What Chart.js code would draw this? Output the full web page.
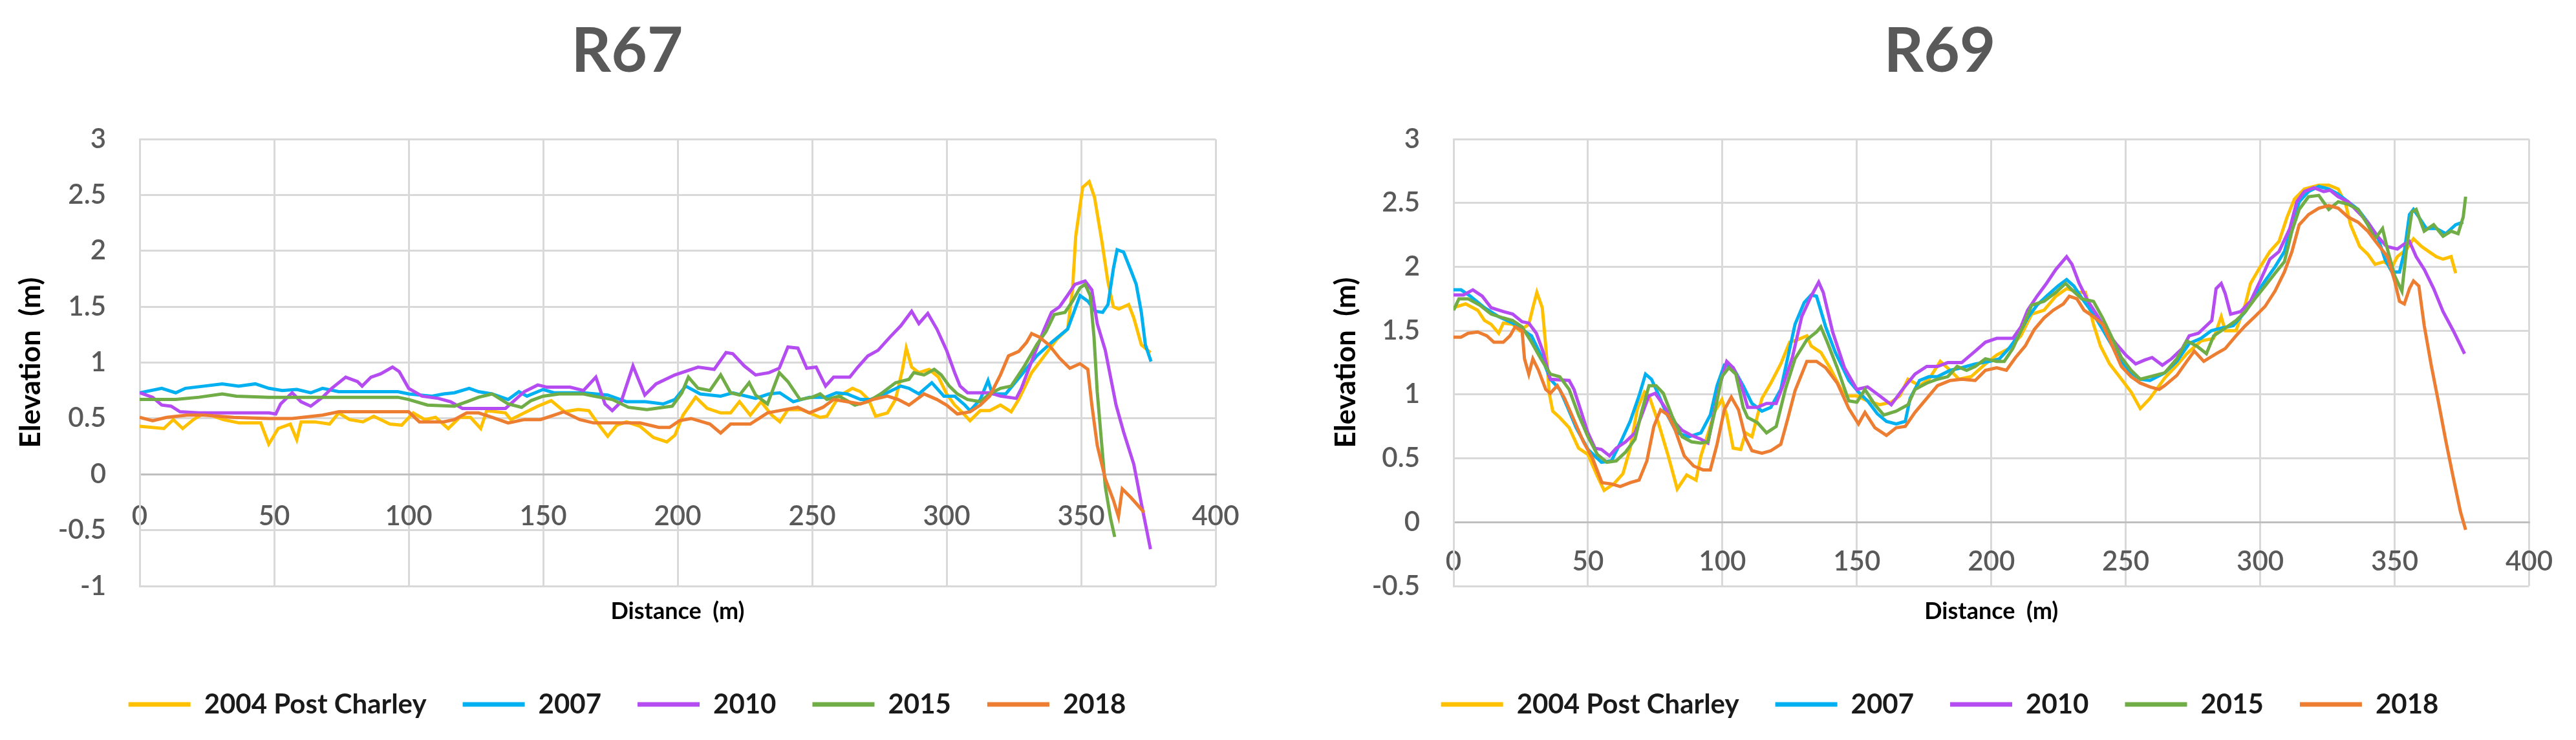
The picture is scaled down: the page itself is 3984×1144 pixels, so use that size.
<!DOCTYPE html>
<html lang="en">
<head>
<meta charset="UTF-8">
<title>R67 / R69 profiles</title>
<style>
  body { margin: 0; background: #fff; }
  .wrap { position: relative; width: 3984px; height: 1144px; }
  canvas { position: absolute; top: 0; }
  #r67 { left: 0; }
  #r69 { left: 1992px; }
</style>
</head>
<body>
<div class="wrap">
  <canvas id="r67" width="1992" height="1144"></canvas>
  <canvas id="r69" width="1992" height="1144"></canvas>
</div>
<script src="https://cdn.jsdelivr.net/npm/chart.js"></script>
<script>
// legend names and colours, same order for both profiles
const seriesNames = ['2004 Post Charley', '2007', '2010', '2015', '2018'];
const seriesColors = ['#FFC000', '#00B0F0', '#B54CF2', '#70AD47', '#ED7D31'];

// [distance (m), elevation (m)]
const r67_2004 = [[0,0.43],[9,0.41],[12.5,0.49],[16,0.41],[20,0.49],[24,0.55],[31,0.49],[37,0.46],[45,0.46],[48,0.27],[51.5,0.41],[56,0.45],[58.4,0.31],[60,0.47],[65,0.47],[70.6,0.45],[74,0.55],[78,0.49],[83,0.47],[87,0.52],[93,0.45],[97.4,0.44],[101.7,0.55],[106,0.49],[110,0.51],[114.7,0.41],[119,0.51],[123,0.51],[126.8,0.41],[129,0.57],[136,0.55],[138,0.49],[143,0.55],[148,0.61],[153,0.66],[158,0.56],[163,0.58],[167,0.57],[170.5,0.45],[174,0.34],[177.4,0.44],[181,0.47],[186,0.43],[191,0.33],[196,0.29],[199,0.35],[202,0.53],[206.7,0.69],[211,0.59],[216,0.55],[219.7,0.55],[223,0.65],[227,0.53],[231,0.65],[235,0.53],[238,0.47],[241,0.58],[246,0.58],[250,0.54],[253,0.51],[255.5,0.52],[260,0.70],[265,0.77],[268,0.74],[271,0.67],[273.6,0.52],[278,0.55],[281,0.67],[283.6,0.94],[285,1.13],[287,0.96],[289.7,0.91],[293.5,0.94],[297,0.87],[300,0.72],[303,0.62],[306,0.55],[308.7,0.48],[312.5,0.57],[316,0.57],[320,0.62],[324,0.56],[326.8,0.67],[331.6,0.91],[336.3,1.06],[341,1.21],[345,1.30],[346.8,1.65],[348,2.13],[350.6,2.57],[353,2.62],[355,2.48],[357.7,2.09],[360,1.72],[362,1.50],[364,1.48],[367.7,1.52],[369.6,1.40],[372.4,1.16],[375.8,1.09]];
const r67_2007 = [[0,0.73],[8.2,0.77],[13.4,0.73],[17,0.77],[24,0.79],[30.7,0.81],[36.8,0.79],[43,0.81],[48,0.77],[53,0.75],[58.4,0.76],[63.6,0.73],[68,0.77],[74,0.74],[96,0.74],[100,0.72],[108.7,0.70],[113,0.72],[117,0.73],[122.5,0.77],[126,0.74],[131,0.72],[137,0.67],[141,0.74],[144,0.70],[150,0.76],[154,0.73],[165,0.73],[174,0.71],[181,0.65],[188,0.65],[194.6,0.63],[199,0.67],[203,0.79],[208.4,0.72],[216,0.70],[220.5,0.73],[229,0.68],[234,0.72],[238,0.73],[243,0.65],[249,0.69],[255,0.69],[259,0.73],[263,0.72],[268,0.67],[271.7,0.67],[277,0.72],[283,0.79],[286,0.77],[289.7,0.72],[294.5,0.82],[299,0.70],[303,0.70],[306.8,0.62],[308.7,0.57],[312.5,0.67],[315.4,0.84],[317,0.72],[322,0.72],[327.8,0.89],[333.5,1.06],[339,1.18],[345,1.30],[349.6,1.60],[352.5,1.55],[355.3,1.46],[358,1.45],[360,1.52],[362,1.84],[363.4,2.01],[365.8,1.99],[368.6,1.82],[370.5,1.70],[372.4,1.45],[373.9,1.16],[376,1.01]];
const r67_2010 = [[0,0.73],[4.8,0.69],[8.2,0.62],[11.7,0.61],[15,0.56],[22,0.55],[48,0.55],[50.6,0.54],[52.4,0.63],[56.7,0.73],[60,0.65],[63.6,0.61],[68,0.69],[71.4,0.77],[76.6,0.87],[81,0.83],[82.7,0.79],[86,0.87],[89.6,0.90],[94,0.96],[96.5,0.92],[100,0.77],[105,0.70],[111,0.68],[115.6,0.65],[120,0.59],[136,0.59],[143,0.74],[148,0.80],[151.5,0.78],[160,0.78],[165,0.75],[169.6,0.87],[173,0.63],[175.7,0.57],[179,0.65],[183.4,0.97],[187.8,0.71],[192,0.81],[199,0.89],[207.6,0.96],[213.6,0.94],[218,1.09],[220.5,1.08],[224.8,0.97],[229,0.89],[234,0.91],[237.8,0.95],[241,1.14],[244.7,1.13],[248,0.95],[251.5,0.96],[255,0.79],[258,0.87],[264,0.87],[267,0.96],[270.7,1.06],[274.5,1.11],[279,1.23],[283,1.33],[287,1.46],[289.7,1.35],[293,1.44],[296.4,1.30],[300,1.11],[303,0.91],[305,0.79],[307.8,0.73],[316,0.73],[320,0.70],[325.9,0.68],[327.8,0.77],[331.6,1.01],[336.3,1.30],[339,1.45],[342,1.50],[344.9,1.60],[347.7,1.70],[351.5,1.73],[354,1.65],[356,1.35],[359,1.11],[363,0.62],[365.8,0.38],[369.6,0.09],[372.4,-0.26],[375.8,-0.67]];
const r67_2015 = [[0,0.67],[13.4,0.67],[22,0.69],[30.7,0.72],[36,0.70],[48,0.69],[96,0.69],[100,0.67],[107,0.62],[117,0.61],[121.6,0.65],[126,0.69],[131,0.72],[137,0.63],[142,0.60],[145.5,0.66],[150,0.70],[156,0.72],[165,0.72],[168.8,0.70],[175.7,0.67],[181.7,0.60],[188.6,0.58],[194.6,0.60],[198,0.61],[201.6,0.73],[204,0.87],[207.6,0.77],[212,0.75],[216,0.89],[219.7,0.73],[223,0.71],[226.6,0.82],[229,0.71],[233.4,0.63],[237.8,0.91],[241,0.83],[245.5,0.67],[250,0.69],[253,0.72],[255.5,0.67],[260,0.70],[265.9,0.62],[270.7,0.65],[275.5,0.72],[281,0.82],[286,0.85],[287.8,0.91],[291.6,0.89],[295.4,0.94],[298,0.89],[301,0.79],[304,0.72],[307.8,0.67],[312.5,0.65],[316,0.72],[320,0.77],[324,0.79],[328.7,0.96],[333.5,1.16],[337,1.28],[340,1.43],[344,1.45],[346.8,1.55],[349.6,1.67],[351.5,1.70],[353.4,1.60],[354.8,1.23],[356,0.74],[357.7,0.26],[359,-0.11],[361,-0.40],[362.5,-0.56]];
const r67_2018 = [[0,0.51],[4.8,0.48],[10,0.51],[17.7,0.53],[23.8,0.53],[35,0.51],[48,0.50],[56.7,0.50],[68,0.53],[74,0.56],[87,0.56],[100,0.56],[104,0.47],[113,0.47],[117,0.49],[121.6,0.55],[126,0.55],[131,0.51],[137,0.46],[143,0.49],[149,0.49],[154,0.53],[157.6,0.56],[163.6,0.49],[168.8,0.46],[186,0.46],[193,0.42],[197,0.42],[200.7,0.48],[205,0.50],[212,0.45],[216,0.37],[219.7,0.45],[227,0.45],[233.4,0.55],[237.8,0.57],[244.7,0.60],[249,0.55],[254,0.60],[258,0.67],[263,0.65],[268,0.63],[272.6,0.67],[278,0.70],[282,0.67],[286,0.62],[291.6,0.72],[296.4,0.67],[300,0.62],[304,0.54],[308.7,0.56],[312.5,0.62],[316,0.70],[320,0.89],[323,1.06],[326.8,1.10],[329.7,1.18],[331.6,1.26],[334.4,1.23],[338,1.16],[342,1.04],[345.8,0.95],[349.6,0.99],[352.5,0.94],[354,0.62],[356,0.26],[359,-0.04],[362,-0.23],[363.9,-0.38],[365.3,-0.13],[368.6,-0.21],[373.4,-0.34]];

const r69_2004 = [[0,1.68],[4.5,1.71],[9,1.66],[11.5,1.58],[14,1.55],[16.8,1.48],[18.5,1.56],[22,1.55],[24.6,1.50],[28,1.55],[29.5,1.68],[31,1.80],[33,1.68],[34.3,1.38],[35.6,1.01],[36.9,0.87],[39.5,0.82],[43,0.74],[46.5,0.58],[50,0.53],[53.5,0.36],[56,0.25],[59.6,0.30],[63,0.38],[65.7,0.58],[68.4,0.89],[71,1.02],[72.7,0.99],[76,0.79],[79.7,0.53],[83.2,0.26],[86.7,0.37],[90.2,0.33],[92,0.52],[94.6,0.69],[97.2,0.87],[99.8,0.96],[101.6,0.84],[104,0.58],[106.8,0.57],[108.6,0.70],[111,0.67],[114.7,0.97],[118,1.09],[121.7,1.24],[125,1.41],[128,1.43],[131.4,1.46],[133,1.38],[136.6,1.33],[140,1.21],[145.4,0.99],[150,0.99],[154,0.95],[158.5,0.92],[162.8,0.94],[166,0.99],[169,1.12],[173.3,1.07],[176.8,1.12],[181,1.26],[184.7,1.19],[188,1.12],[192.5,1.14],[197.8,1.24],[202,1.31],[206.5,1.36],[211,1.46],[215,1.63],[219.6,1.66],[224,1.77],[228,1.83],[232.7,1.80],[235,1.80],[238,1.55],[240.6,1.38],[244,1.24],[248.4,1.12],[252,1.02],[255.4,0.89],[259,0.97],[264.5,1.13],[269,1.23],[272.7,1.32],[278,1.42],[282.7,1.44],[285.5,1.61],[287,1.50],[291,1.50],[294.5,1.71],[296.4,1.87],[300,2.00],[303.6,2.12],[307,2.20],[310,2.39],[312.7,2.53],[316.4,2.61],[321.8,2.64],[325.5,2.64],[329,2.61],[331.8,2.49],[333.6,2.33],[337,2.16],[340,2.10],[342.7,2.02],[346,2.04],[349,2.00],[351,2.08],[354.5,2.14],[357,2.22],[360,2.16],[362.7,2.12],[365.5,2.08],[368,2.06],[371,2.08],[372.7,1.95]];
const r69_2007 = [[0,1.82],[2.8,1.82],[6.3,1.77],[11.5,1.68],[16.8,1.61],[22,1.56],[25.5,1.51],[29,1.46],[32.5,1.31],[36,1.12],[39.5,1.04],[42,0.92],[45.6,0.74],[50,0.57],[55,0.47],[58.7,0.48],[62,0.62],[65.7,0.79],[69,0.99],[71.4,1.16],[73.6,1.12],[76,1.01],[78.8,0.87],[83,0.70],[87.6,0.67],[92,0.70],[95.5,0.84],[98,1.07],[100.7,1.23],[104,1.21],[107.7,1.07],[111,0.93],[114.7,0.87],[118,0.90],[121.7,1.04],[124.3,1.29],[127,1.55],[130.4,1.72],[133,1.78],[135,1.77],[138.4,1.53],[142,1.33],[147,1.11],[150.6,1.02],[154,0.95],[157.6,0.85],[161,0.79],[164.6,0.77],[168,0.79],[169.8,0.97],[173.3,1.11],[176.8,1.14],[180,1.14],[184.7,1.19],[189,1.21],[194,1.24],[199.5,1.26],[203,1.28],[206.5,1.36],[210,1.46],[213.5,1.60],[217,1.70],[221,1.78],[224.8,1.85],[228,1.90],[230.7,1.85],[234.5,1.73],[238,1.63],[241.4,1.51],[245,1.38],[248.4,1.26],[252,1.17],[255.4,1.12],[259,1.11],[264.5,1.17],[269,1.26],[273.6,1.40],[278,1.44],[281.8,1.50],[285.5,1.52],[290,1.54],[294.5,1.65],[298,1.77],[301.8,1.89],[305.5,2.00],[309,2.12],[311.8,2.33],[314.5,2.51],[318,2.59],[321.8,2.63],[325.5,2.61],[329,2.57],[332.7,2.51],[336.4,2.45],[340,2.35],[343.6,2.24],[346.4,2.06],[349,1.96],[351.8,1.96],[353.6,2.12],[355.5,2.41],[357,2.45],[359,2.39],[361.8,2.30],[365.5,2.30],[369,2.26],[372.7,2.33],[375.5,2.35]];
const r69_2010 = [[0,1.78],[3.7,1.78],[7.2,1.82],[10.7,1.77],[14,1.68],[18.5,1.65],[22,1.63],[25.5,1.57],[28,1.56],[30.8,1.48],[33.4,1.33],[36,1.12],[43,1.11],[44.8,1.04],[47.4,0.87],[50,0.70],[52.6,0.58],[55,0.57],[58,0.52],[60.5,0.58],[64,0.63],[67.5,0.70],[70,0.84],[72.7,0.99],[75,1.01],[78,0.92],[81.5,0.80],[85,0.72],[88.5,0.68],[92,0.65],[94.6,0.62],[96.3,0.80],[99,1.07],[101.6,1.26],[104,1.21],[106.8,1.09],[109.4,0.90],[113,0.90],[116.4,0.93],[120,0.93],[122.5,1.07],[126,1.29],[129.5,1.61],[133,1.77],[135.8,1.88],[137.5,1.80],[141,1.49],[145.4,1.21],[150,1.04],[154,1.06],[158.5,0.99],[162.8,0.92],[167,1.04],[171.6,1.16],[176,1.22],[180,1.22],[183.8,1.25],[189,1.25],[194,1.34],[197.8,1.41],[202,1.44],[208,1.44],[211,1.53],[213.5,1.66],[217,1.77],[220.5,1.87],[224,1.98],[228,2.08],[230,2.02],[232.7,1.87],[236,1.73],[239.7,1.61],[243,1.49],[246.7,1.39],[250,1.31],[253.7,1.24],[257,1.27],[259.8,1.29],[263.6,1.23],[267,1.28],[271,1.36],[273.6,1.46],[277,1.48],[282,1.58],[283.6,1.83],[285.5,1.87],[287,1.79],[289,1.63],[292.7,1.65],[296.4,1.73],[300,1.89],[303.6,2.06],[307,2.12],[311,2.30],[313.6,2.51],[316.4,2.59],[320,2.62],[323.6,2.59],[326,2.60],[329,2.55],[332.7,2.51],[336.4,2.43],[340,2.35],[343.6,2.24],[347,2.16],[351,2.14],[353.6,2.18],[355.5,2.20],[358,2.08],[361,1.98],[364.5,1.83],[368,1.65],[371.8,1.50],[376,1.32]];
const r69_2015 = [[0,1.66],[2,1.75],[5.4,1.75],[9.8,1.70],[14,1.63],[18.5,1.60],[22,1.58],[25.5,1.53],[29,1.41],[32.5,1.28],[36,1.16],[39.5,1.14],[43,1.04],[46.5,0.84],[50,0.67],[53.5,0.53],[57,0.47],[60.5,0.48],[64,0.55],[67.5,0.65],[70,0.87],[72.7,1.07],[75.3,1.07],[78,1.01],[81.5,0.82],[85,0.67],[88.5,0.63],[92,0.62],[94.6,0.63],[97.2,0.87],[99.8,1.14],[102.4,1.21],[105,1.16],[107.7,0.90],[109.4,0.82],[113,0.78],[116.4,0.70],[120,0.75],[123.4,1.04],[127,1.28],[131.4,1.43],[135,1.49],[136.6,1.53],[139,1.41],[142.7,1.21],[147,0.95],[150,0.94],[153,1.04],[156.7,0.92],[160,0.84],[164.6,0.87],[169,0.92],[171.6,1.04],[176,1.09],[180,1.12],[183.8,1.14],[187.3,1.22],[190.8,1.19],[194,1.22],[197.8,1.28],[202,1.26],[204.8,1.26],[208,1.36],[211.7,1.53],[215,1.70],[219.6,1.73],[224,1.80],[227.6,1.87],[230,1.82],[233.6,1.75],[238,1.73],[241.4,1.60],[245,1.44],[248.4,1.29],[252,1.19],[255.4,1.12],[259,1.14],[264.5,1.17],[269,1.28],[272.7,1.42],[276.4,1.38],[280,1.32],[282.7,1.46],[287,1.52],[291,1.58],[294.5,1.65],[298,1.75],[301.8,1.85],[305.5,1.95],[309,2.04],[311.8,2.28],[314.5,2.45],[318,2.55],[321.8,2.56],[325.5,2.45],[329,2.51],[332.7,2.49],[336.4,2.45],[340,2.33],[342.7,2.22],[345.5,2.30],[347.3,2.14],[350,1.93],[352.7,1.81],[354.5,2.16],[356.4,2.43],[358,2.45],[361,2.28],[364.5,2.33],[368,2.24],[371,2.28],[373.6,2.26],[375.5,2.39],[376.4,2.55]];
const r69_2018 = [[0,1.45],[2.8,1.45],[5.4,1.48],[9,1.49],[12.4,1.46],[15,1.41],[18.5,1.41],[21,1.46],[22.9,1.53],[25.5,1.50],[26.4,1.28],[28,1.16],[29.5,1.28],[31.6,1.19],[34.3,1.04],[36,1.01],[38.6,1.07],[41.3,0.97],[44.8,0.80],[48.3,0.63],[51.7,0.50],[55.2,0.31],[58.7,0.30],[62,0.28],[65.7,0.31],[69,0.33],[71.9,0.48],[74.5,0.75],[77,0.88],[79.7,0.84],[82.3,0.73],[85.8,0.52],[89.3,0.44],[92.8,0.41],[95.5,0.41],[98,0.61],[100.7,0.88],[103.3,0.98],[106,0.88],[108.6,0.66],[111,0.56],[114.7,0.54],[118,0.56],[121.7,0.61],[124.3,0.81],[127,1.03],[131.4,1.26],[135,1.26],[138.4,1.21],[142.7,1.09],[147,0.89],[150.6,0.77],[153,0.86],[156.7,0.74],[161,0.68],[164.6,0.74],[168,0.75],[171.6,0.86],[176,0.97],[180,1.07],[184.7,1.11],[189,1.12],[194,1.11],[197.8,1.19],[202,1.21],[205.6,1.19],[209,1.29],[212.6,1.38],[216,1.51],[219.6,1.60],[223,1.66],[226.8,1.71],[229,1.77],[231.8,1.75],[234.5,1.66],[238,1.61],[241.4,1.55],[245,1.38],[248.4,1.22],[252,1.14],[255.4,1.09],[259,1.06],[262.4,1.04],[264.5,1.07],[269,1.15],[272.7,1.26],[275.5,1.34],[279,1.26],[283.6,1.32],[287,1.36],[291,1.46],[294.5,1.54],[298,1.61],[301.8,1.69],[305.5,1.81],[309,1.96],[311.8,2.12],[314.5,2.33],[318,2.41],[321.8,2.46],[325.5,2.48],[329,2.46],[332.7,2.39],[336.4,2.35],[340,2.28],[343.6,2.18],[347.3,2.08],[350,1.89],[351.8,1.73],[353.6,1.71],[355.5,1.83],[357,1.89],[359,1.85],[361,1.54],[363.6,1.23],[366.4,0.93],[369,0.64],[371.8,0.35],[374.5,0.08],[376.4,-0.06]];

const FONT = 'Lato, "Open Sans", sans-serif';
const GREY = '#595959';

function makeSets(list) {
  return list.map((pts, i) => ({
    label: seriesNames[i],
    data: pts.map(p => ({ x: p[0], y: p[1] })),
    xAxisID: 'x',
    borderColor: seriesColors[i],
    backgroundColor: seriesColors[i],
    borderWidth: 5,
    pointRadius: 0,
    tension: 0,
    order: list.length - i   // later survey drawn on top, like excel
  }));
}

function makeChart(id, title, sets, yMin, lay) {
  return new Chart(document.getElementById(id), {
    type: 'line',
    data: { datasets: makeSets(sets) },
    options: {
      responsive: false,
      animation: false,
      devicePixelRatio: 1,
      layout: { padding: { left: lay.left, right: lay.right, top: 0, bottom: 24 } },
      plugins: {
        tooltip: { enabled: false },
        title: {
          display: true, text: title, color: GREY,
          font: { family: FONT, size: 96, weight: 'bold' },
          padding: { top: 22, bottom: 78 }
        },
        legend: {
          position: 'bottom',
          labels: {
            usePointStyle: true, pointStyle: 'line', pointStyleWidth: 96,
            padding: 56, color: '#1a1a1a',
            font: { family: FONT, size: 42, weight: 'bold' },
            sort: (a, b) => a.datasetIndex - b.datasetIndex,
            generateLabels: (chart) => Chart.defaults.plugins.legend.labels.generateLabels(chart)
              .map(l => Object.assign(l, { lineWidth: 7 }))
          }
        }
      },
      scales: {
        x: {
          type: 'linear', position: { y: 0 }, min: 0, max: 400,
          ticks: { stepSize: 50, padding: lay.xPad, color: GREY, maxRotation: 0, autoSkip: false,
                   font: { family: FONT, size: 42, weight: '600' } },
          grid: { color: '#d9d9d9', lineWidth: 3, drawTicks: false },
          border: { color: '#bfbfbf', width: 3 }
        },
        xt: {
          type: 'linear', position: 'bottom', min: 0, max: 400,
          ticks: { display: false }, grid: { display: false }, border: { display: false },
          title: { display: true, text: 'Distance  (m)', color: '#000',
                   font: { family: FONT, size: 36, weight: 'bold' }, padding: { top: 0, bottom: 45 } },
          afterFit: (s) => { s.height = 106; }
        },
        y: {
          type: 'linear', min: yMin, max: 3,
          afterFit: (s) => { s.width = lay.yWidth; },
          ticks: { stepSize: 0.5, padding: 52, color: GREY, callback: (v) => String(v),
                   font: { family: FONT, size: 42, weight: '600' } },
          grid: { color: '#d9d9d9', lineWidth: 3, drawTicks: false },
          border: { color: '#d9d9d9', width: 3 },
          title: { display: true, text: 'Elevation  (m)', color: '#000',
                   font: { family: FONT, size: 44, weight: 'bold' }, padding: { top: lay.yTitle, bottom: 0 } }
        }
      }
    }
  });
}

makeChart('r67', 'R67', [r67_2004, r67_2007, r67_2010, r67_2015, r67_2018], -1,
  { left: 60, right: 112, yWidth: 156, yTitle: -39, xPad: 40 });
makeChart('r69', 'R69', [r69_2004, r69_2007, r69_2010, r69_2015, r69_2018], -0.5,
  { left: 96, right: 72, yWidth: 160, yTitle: -33, xPad: 36 });
</script>
</body>
</html>
